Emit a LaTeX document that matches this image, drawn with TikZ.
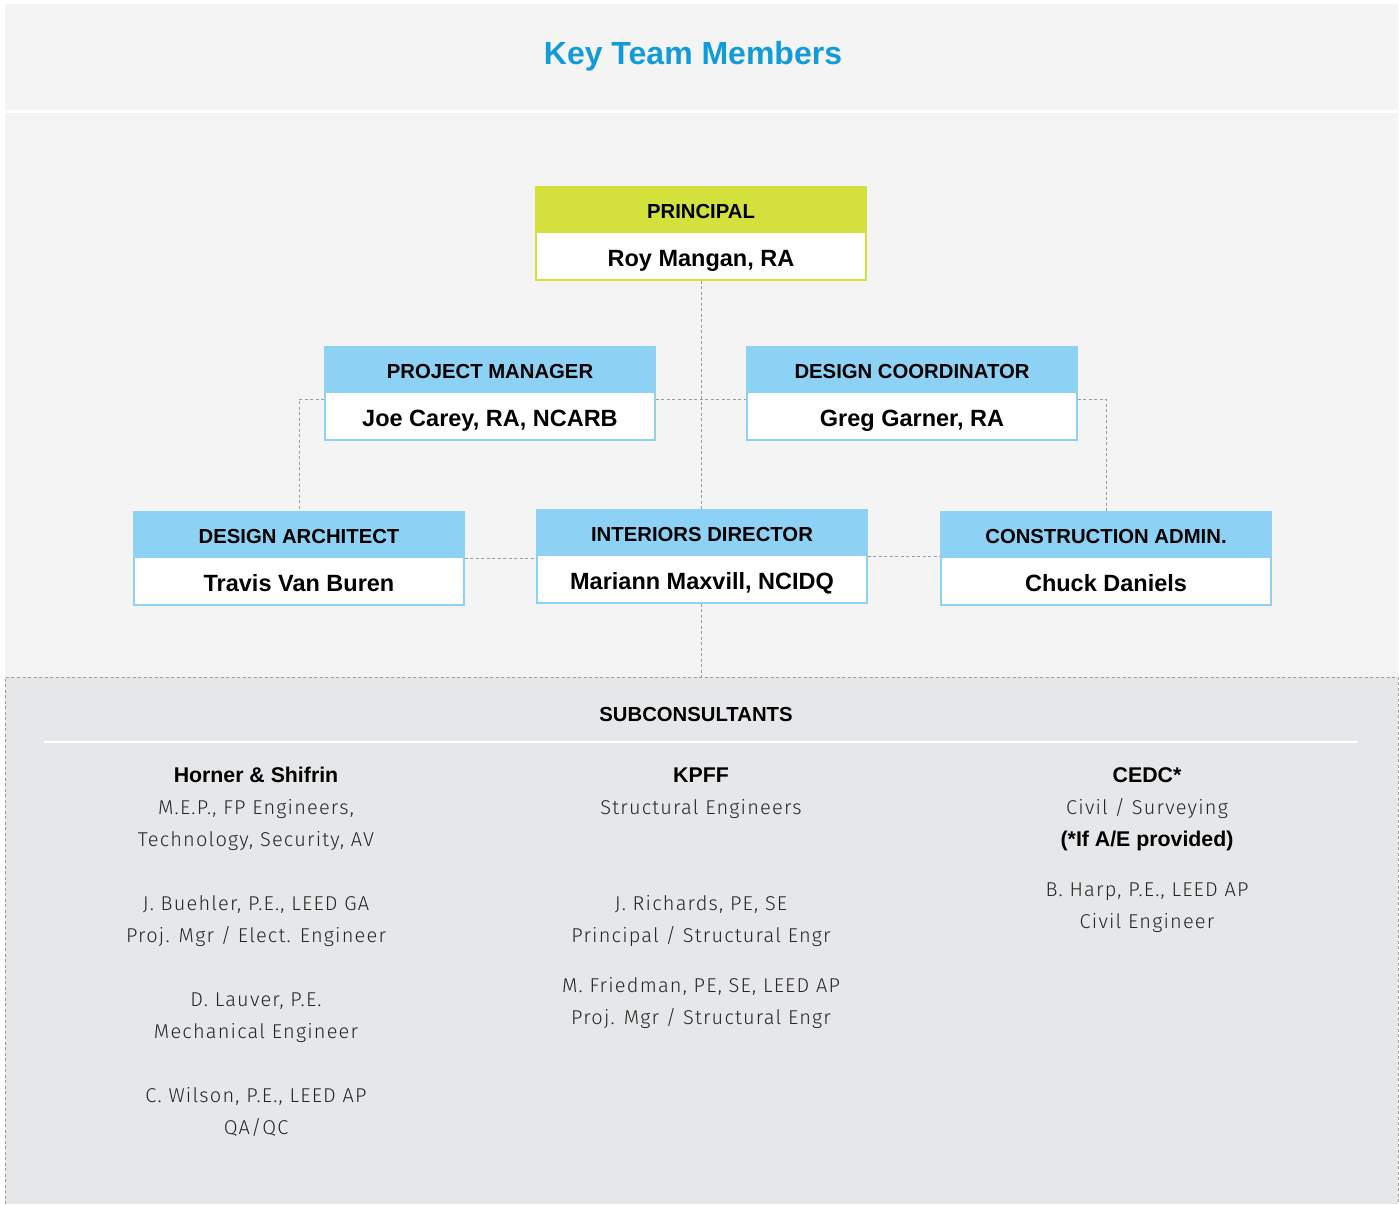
\documentclass[tikz,border=0pt]{standalone}
\usepackage{fontspec}
\setmainfont{Liberation Sans}
\newfontfamily\lightfont{Fira Sans Light}[LetterSpace=6]
\usetikzlibrary{calc}
\definecolor{panel}{HTML}{F4F4F4}
\definecolor{subpanel}{HTML}{E6E7E9}
\definecolor{hdrblue}{HTML}{8DD1F4}
\definecolor{hdrgreen}{HTML}{D4E03B}
\definecolor{titleblue}{HTML}{119BD8}
\definecolor{dashgrey}{HTML}{9C9C9C}
\definecolor{subtext}{HTML}{262626}
\newcommand{\OrgBox}[6]{%
  \node[orgbox=#4] (#1) at (#2,#3+46.5) {};
  \fill[#4] (#1.north west) rectangle ([yshift=-47pt]#1.north east);
  \node[hdrtxt] (#1-h) at ($(#1.north)+(0,32)$) {#5};
  \node[nametxt] (#1-n) at ($(#1.north)+(0,80.3)$) {#6};
}
\begin{document}
\begin{tikzpicture}[x=1pt,y=-1pt,
  orgbox/.style={draw=#1, fill=white, line width=1.5pt, minimum width=330pt, minimum height=93pt, inner sep=0pt},
  hdrtxt/.style={font=\bfseries\fontsize{20.3}{24}\selectfont, anchor=base, inner sep=0pt},
  nametxt/.style={font=\bfseries\fontsize{23.5}{27}\selectfont, anchor=base, inner sep=0pt},
  conn/.style={draw=dashgrey, line width=1pt, dash pattern=on 3pt off 2.5pt},
  subbold/.style={font=\bfseries\fontsize{21.3}{24}\selectfont, anchor=base, inner sep=0pt, text=black},
  sublight/.style={font=\lightfont\fontsize{20}{24}\selectfont, anchor=base, inner sep=0pt, text=subtext},
]
\useasboundingbox (0,0) rectangle (1399,1204);
\fill[white] (0,0) rectangle (1399,1204);
% panels
\fill[panel] (5,4) rectangle (1398,110);
\fill[panel] (5,113) rectangle (1398,677);
\fill[subpanel] (5,677) rectangle (1398,1204);
\draw[conn] (5,1204) -- (5,677) -- (1398,677) -- (1398,1204);
\draw[white, line width=1.5pt] (44,742) -- (1358,742);

\node[font=\bfseries\fontsize{32}{38}\selectfont, text=titleblue, anchor=base, inner sep=0pt] (title) at (693,64.5) {Key Team Members};

% boxes
\OrgBox{pr}{701}{187}{hdrgreen}{PRINCIPAL}{Roy Mangan, RA}
\OrgBox{pm}{490}{347}{hdrblue}{PROJECT MANAGER}{Joe Carey, RA, NCARB}
\OrgBox{dc}{912}{347}{hdrblue}{DESIGN COORDINATOR}{Greg Garner, RA}
\OrgBox{da}{299}{512}{hdrblue}{DESIGN ARCHITECT}{Travis Van Buren}
\OrgBox{id}{702}{510}{hdrblue}{INTERIORS DIRECTOR}{Mariann Maxvill, NCIDQ}
\OrgBox{ca}{1106}{512}{hdrblue}{CONSTRUCTION ADMIN.}{Chuck Daniels}

\coordinate (subtop) at (701,677);

% connectors
\draw[conn] (pr.south) -- (pr.south |- id.north);
\draw[conn] (pr.south |- id.south) -- (subtop);
\draw[conn] ([yshift=-5.5pt]pm.east) -- ([yshift=-5.5pt]pm.east -| dc.west);
\draw[conn] ([yshift=-5.5pt]pm.west) -| (da.north);
\draw[conn] ([yshift=-5.5pt]dc.east) -| (ca.north);
\draw[conn] (da.east) -- (da.east -| id.west);
\draw[conn] (id.east) -- (id.east -| ca.west);

% subconsultants
\node[subbold, font=\bfseries\fontsize{20.3}{24}\selectfont] (subhead) at (696,721) {SUBCONSULTANTS};

\node[subbold] (hs) at (256,782.4) {Horner \& Shifrin};
\node[sublight] (hs1) at (256,814.2) {M.E.P., FP Engineers,};
\node[sublight] (hs2) at (256,846.2) {Technology, Security, AV};
\node[sublight] (hs3) at (256,910.2) {J. Buehler, P.E., LEED GA};
\node[sublight] (hs4) at (256,942.2) {Proj. Mgr / Elect. Engineer};
\node[sublight] (hs5) at (256,1006.2) {D. Lauver, P.E.};
\node[sublight] (hs6) at (256,1038.2) {Mechanical Engineer};
\node[sublight] (hs7) at (256,1102.2) {C. Wilson, P.E., LEED AP};
\node[sublight] (hs8) at (256,1134.2) {QA/QC};

\node[subbold] (kp) at (701,782.4) {KPFF};
\node[sublight] (kp1) at (701,814.2) {Structural Engineers};
\node[sublight] (kp2) at (701,910.2) {J. Richards, PE, SE};
\node[sublight] (kp3) at (701,942.2) {Principal / Structural Engr};
\node[sublight] (kp4) at (701,992.2) {M. Friedman, PE, SE, LEED AP};
\node[sublight] (kp5) at (701,1024.2) {Proj. Mgr / Structural Engr};

\node[subbold] (ce) at (1147,782.4) {CEDC*};
\node[sublight] (ce1) at (1147,814.2) {Civil / Surveying};
\node[subbold] (ce2) at (1147,846.4) {(*If A/E provided)};
\node[sublight] (ce3) at (1147,896.2) {B. Harp, P.E., LEED AP};
\node[sublight] (ce4) at (1147,928.2) {Civil Engineer};
\end{tikzpicture}
\end{document}
